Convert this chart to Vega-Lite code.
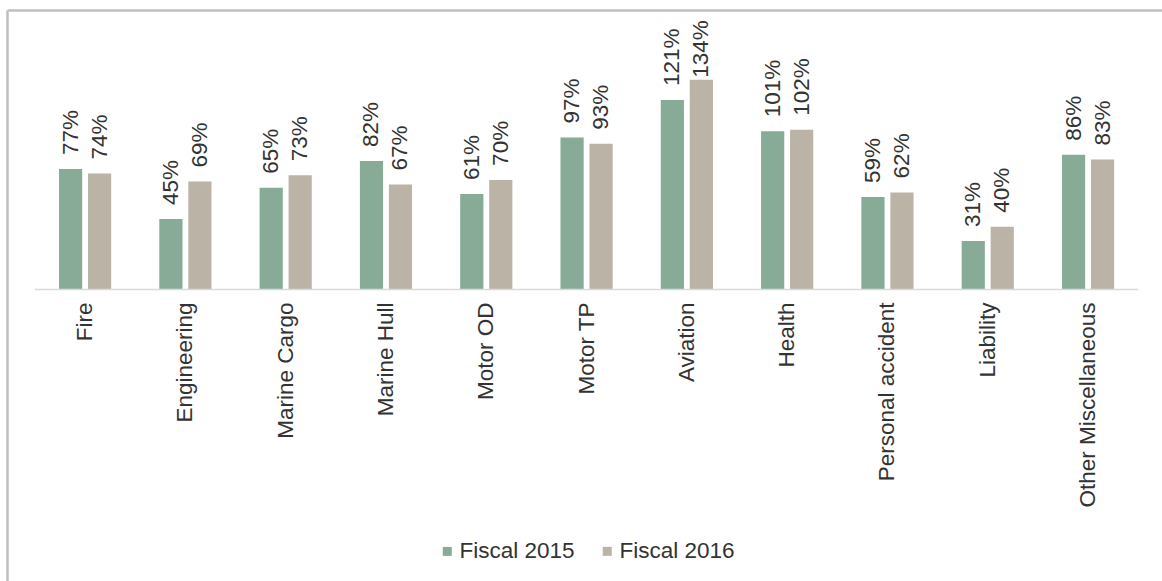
{
  "$schema": "https://vega.github.io/schema/vega-lite/v6.json",
  "width": 1155,
  "height": 571,
  "autosize": {"type": "none"},
  "padding": {"left": 7, "top": 10, "right": 0, "bottom": 0},
  "background": "#ffffff",
  "config": {
    "view": {"stroke": null},
    "font": "Liberation Sans",
    "text": {"font": "Liberation Sans", "fontSize": 22.5, "color": "#333333"}
  },
  "datasets": {
    "rows": [
      {"category": "Fire", "series": "Fiscal 2015", "value": 0.77},
      {"category": "Fire", "series": "Fiscal 2016", "value": 0.74},
      {"category": "Engineering", "series": "Fiscal 2015", "value": 0.45},
      {"category": "Engineering", "series": "Fiscal 2016", "value": 0.69},
      {"category": "Marine Cargo", "series": "Fiscal 2015", "value": 0.65},
      {"category": "Marine Cargo", "series": "Fiscal 2016", "value": 0.73},
      {"category": "Marine Hull", "series": "Fiscal 2015", "value": 0.82},
      {"category": "Marine Hull", "series": "Fiscal 2016", "value": 0.67},
      {"category": "Motor OD", "series": "Fiscal 2015", "value": 0.61},
      {"category": "Motor OD", "series": "Fiscal 2016", "value": 0.70},
      {"category": "Motor TP", "series": "Fiscal 2015", "value": 0.97},
      {"category": "Motor TP", "series": "Fiscal 2016", "value": 0.93},
      {"category": "Aviation", "series": "Fiscal 2015", "value": 1.21},
      {"category": "Aviation", "series": "Fiscal 2016", "value": 1.34},
      {"category": "Health", "series": "Fiscal 2015", "value": 1.01},
      {"category": "Health", "series": "Fiscal 2016", "value": 1.02},
      {"category": "Personal accident", "series": "Fiscal 2015", "value": 0.59},
      {"category": "Personal accident", "series": "Fiscal 2016", "value": 0.62},
      {"category": "Liability", "series": "Fiscal 2015", "value": 0.31},
      {"category": "Liability", "series": "Fiscal 2016", "value": 0.40},
      {"category": "Other Miscellaneous", "series": "Fiscal 2015", "value": 0.86},
      {"category": "Other Miscellaneous", "series": "Fiscal 2016", "value": 0.83}
    ],
    "base": [{"start": "Fire", "end": "Other Miscellaneous"}]
  },
  "layer": [
    {
      "data": {"name": "rows"},
      "mark": {"type": "bar"},
      "encoding": {
        "x": {
          "field": "category", "type": "nominal",
          "scale": {
            "domain": ["Fire", "Engineering", "Marine Cargo", "Marine Hull", "Motor OD", "Motor TP", "Aviation", "Health", "Personal accident", "Liability", "Other Miscellaneous"],
            "paddingInner": 0, "paddingOuter": 0.258, "align": 0.54
          },
          "axis": {"orient": "top", "labels": false, "ticks": false, "title": null, "domain": true, "domainColor": "#bfbfbf", "domainWidth": 2.5, "grid": false}
        },
        "xOffset": {"field": "series", "type": "nominal", "scale": {"paddingInner": 0.2, "paddingOuter": 0.83}},
        "y": {
          "field": "value", "type": "quantitative",
          "scale": {"domain": [-1.862, 1.785], "nice": false, "zero": false},
          "axis": {"labels": false, "ticks": false, "title": null, "grid": false, "domain": true, "domainColor": "#bfbfbf", "domainWidth": 2.5}
        },
        "y2": {"datum": 0},
        "color": {
          "field": "series", "type": "nominal",
          "scale": {"domain": ["Fiscal 2015", "Fiscal 2016"], "range": ["#88ab98", "#bbb3a6"]},
          "legend": {
            "orient": "none", "legendX": 429, "legendY": 530, "direction": "horizontal",
            "title": null, "symbolType": "square", "symbolSize": 81, "symbolStrokeWidth": 0,
            "labelFont": "Liberation Sans", "labelFontSize": 22.5, "labelColor": "#333333",
            "labelOffset": 1, "columnPadding": 21, "padding": 0
          }
        }
      }
    },
    {
      "data": {"name": "rows"},
      "mark": {"type": "text", "angle": 270, "align": "left", "baseline": "middle", "dx": {"expr": "datum.value > 1.3 ? 2 : 14"}},
      "encoding": {
        "x": {"field": "category", "type": "nominal"},
        "xOffset": {"field": "series", "type": "nominal"},
        "y": {"field": "value", "type": "quantitative"},
        "text": {"field": "value", "type": "quantitative", "format": ".0%"}
      }
    },
    {
      "data": {"name": "rows"},
      "transform": [{"filter": "datum.series == 'Fiscal 2015'"}],
      "mark": {"type": "text", "angle": 270, "align": "right", "baseline": "middle", "dx": -13},
      "encoding": {
        "x": {"field": "category", "type": "nominal"},
        "y": {"datum": 0},
        "text": {"field": "category", "type": "nominal"}
      }
    },
    {
      "data": {"name": "base"},
      "mark": {"type": "rule", "color": "#d9d9d9", "strokeWidth": 1.5},
      "encoding": {
        "x": {"field": "start", "type": "nominal", "bandPosition": 0},
        "x2": {"field": "end", "bandPosition": 1},
        "y": {"datum": 0}
      }
    }
  ]
}
